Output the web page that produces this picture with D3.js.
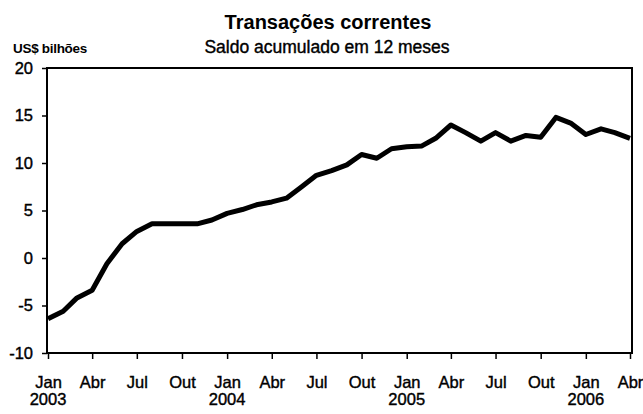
<!DOCTYPE html>
<html>
<head>
<meta charset="utf-8">
<script src="https://cdn.jsdelivr.net/npm/d3@7"></script>
<style>
  body { margin: 0; background: #fff; overflow: hidden; }
  svg text { font-family: 'Liberation Sans', Arial, sans-serif; fill: #000; }
</style>
</head>
<body>
<div id="chart"></div>
<script>
// Data: monthly, Jan 2003 .. Apr 2006 (US$ billions, 12-month accumulated)
const startYear = 2003
const values = [
  -6.4, -5.6, -4.2, -3.4, -0.6, 1.5, 2.8, 3.6, 3.6, 3.6, 3.6, 4.0,
  4.7, 5.1, 5.6, 5.9, 6.3, 7.5, 8.7, 9.2, 9.8, 10.9, 10.5, 11.5,
  11.7, 11.8, 12.6, 14.0, 13.2, 12.3, 13.2, 12.3, 12.9, 12.7, 14.8, 14.2,
  13.0, 13.6, 13.2, 12.6
]
const monthLabels = ['Jan', 'Abr', 'Jul', 'Out']
const yTicks = [-10, -5, 0, 5, 10, 15, 20]

const w = 643
const h = 414
const plotLeft = 48
const plotRight = 630
const plotTop = 68
const plotBottom = 353

const svg = d3.select('#chart').append('svg')
  .attr('width', w)
  .attr('height', h)

const data = values.map((v, i) => ({ date: new Date(startYear, i, 1), v }))

// Scales
const xScale = d3.scaleTime()
  .domain([data[0].date, data[data.length - 1].date])
  .range([plotLeft, plotRight])
const yScale = d3.scaleLinear()
  .domain([-10, 20])
  .range([plotBottom, plotTop])

// Titles
svg.append('text')
  .attr('x', 328)
  .attr('y', 29)
  .attr('text-anchor', 'middle')
  .style('font-size', '20px')
  .style('font-weight', 'bold')
  .text('Transações correntes')

svg.append('text')
  .attr('x', 327)
  .attr('y', 53)
  .attr('text-anchor', 'middle')
  .style('font-size', '17.5px')
  .style('stroke', '#000')
  .style('stroke-width', 0.4)
  .text('Saldo acumulado em 12 meses')

svg.append('text')
  .attr('x', 13)
  .attr('y', 53)
  .style('font-size', '13.5px')
  .style('font-weight', 'bold')
  .style('letter-spacing', '-0.3px')
  .text('US$ bilhões')

// Frame
svg.append('rect')
  .attr('x', plotLeft - 1)
  .attr('y', plotTop)
  .attr('width', 632 - plotLeft + 1)
  .attr('height', plotBottom - plotTop)
  .attr('fill', 'none')
  .attr('stroke', '#000')
  .attr('stroke-width', 2)

// Y axis
const yAxis = d3.axisLeft(yScale)
  .tickValues(yTicks)
  .tickSize(5)
  .tickPadding(9)
  .tickFormat(d => d)

const gy = svg.append('g')
  .attr('id', 'y-axis')
  .attr('transform', `translate(${plotLeft - 1}, 0)`)
  .call(yAxis)
gy.select('.domain').remove()
gy.selectAll('line').attr('stroke-width', 1.5)
gy.selectAll('text')
  .style('font-size', '16.5px')
  .style('stroke', '#000')
  .style('stroke-width', 0.4)

// X axis (quarterly ticks)
const xTickDates = d3.range(0, values.length, 3).map(i => new Date(startYear, i, 1))

const xAxis = d3.axisBottom(xScale)
  .tickValues(xTickDates)
  .tickSize(6)
  .tickFormat(d => monthLabels[d.getMonth() / 3])

const gx = svg.append('g')
  .attr('id', 'x-axis')
  .attr('transform', `translate(0, ${plotBottom})`)
  .call(xAxis)
gx.select('.domain').remove()
gx.selectAll('line').attr('stroke-width', 1.5)
gx.selectAll('.tick text')
  .attr('y', 35)
  .attr('dy', 0)
  .style('font-size', '16.5px')
  .style('stroke', '#000')
  .style('stroke-width', 0.4)

// Year labels under January
gx.selectAll('.year')
  .data(xTickDates.filter(d => d.getMonth() === 0))
  .enter()
  .append('text')
  .attr('class', 'year')
  .attr('x', d => xScale(d))
  .attr('y', 52)
  .attr('text-anchor', 'middle')
  .style('font-size', '16.5px')
  .style('stroke', '#000')
  .style('stroke-width', 0.4)
  .text(d => d.getFullYear())

// Line
const line = d3.line()
  .x(d => xScale(d.date))
  .y(d => yScale(d.v))

svg.append('path')
  .datum(data)
  .attr('d', line)
  .attr('fill', 'none')
  .attr('stroke', '#000')
  .attr('stroke-width', 5)
  .attr('stroke-linejoin', 'round')
  .attr('stroke-linecap', 'butt')
</script>
</body>
</html>
